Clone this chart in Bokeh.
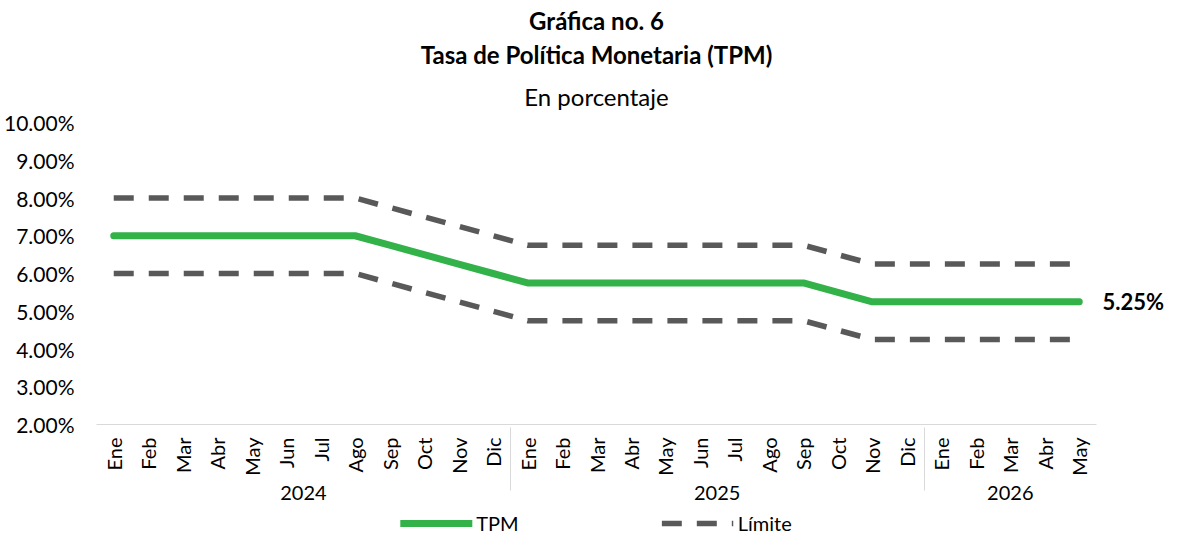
import math
from bokeh.plotting import figure
from bokeh.layouts import column
from bokeh.models import (FactorRange, Range1d, PrintfTickFormatter, Title, Legend,
                          LegendItem, FixedTicker, ColumnDataSource, LinearAxis)
from bokeh.embed import file_html
from bokeh.resources import INLINE

years = ["2024"] * 12 + ["2025"] * 12 + ["2026"] * 5
months = (["Ene", "Feb", "Mar", "Abr", "May", "Jun", "Jul", "Ago", "Sep", "Oct", "Nov", "Dic"] * 2
          + ["Ene", "Feb", "Mar", "Abr", "May"])
tpm = [7.00] * 8 + [6.75, 6.50, 6.25, 6.00] + [5.75] * 9 + [5.50, 5.25, 5.25] + [5.25] * 5
lim_sup = [8.00] * 8 + [7.75, 7.50, 7.25, 7.00] + [6.75] * 9 + [6.50, 6.25, 6.25] + [6.25] * 5
lim_inf = [6.00] * 8 + [5.75, 5.50, 5.25, 5.00] + [4.75] * 9 + [4.50, 4.25, 4.25] + [4.25] * 5
y_ticks = [2, 3, 4, 5, 6, 7, 8, 9, 10]

FONT = "Lato"
GREEN = "#33B24A"
GREY = "#595959"
factors = list(zip(years, months))
src = ColumnDataSource(dict(x=factors, tpm=tpm, sup=lim_sup, inf=lim_inf))

p = figure(width=1167, height=510, output_backend="svg", toolbar_location=None,
           x_range=FactorRange(*factors, range_padding=0, group_padding=0, factor_padding=0),
           y_range=Range1d(2, 10), min_border_right=0, min_border_left=10,
           min_border_bottom=86)
p.outline_line_color = None

for txt, bold, so in [("En porcentaje", False, 23),
                      ("Tasa de Política Monetaria (TPM)", True, 0),
                      ("Gráfica no. 6", True, 6)]:
    p.add_layout(Title(text=txt, align="center", text_font=FONT, text_font_size="24px",
                       text_font_style="bold" if bold else "normal", text_color="black",
                       standoff=so, offset=-8), "above")

p.line("x", "sup", source=src, line_color=GREY, line_width=5.5, line_dash="20 15")
p.line("x", "inf", source=src, line_color=GREY, line_width=5.5, line_dash="20 15")
p.line("x", "tpm", source=src, line_color=GREEN, line_width=7, line_cap="round",
       line_join="round")

p.xgrid.visible = False
p.ygrid.visible = False

ya = p.yaxis[0]
ya.ticker = FixedTicker(ticks=y_ticks)
ya.formatter = PrintfTickFormatter(format="%.2f%%")
ya.axis_line_color = None
ya.major_tick_line_color = None
ya.minor_tick_line_color = None
ya.major_label_text_font = FONT
ya.major_label_text_font_size = "21px"
ya.major_label_text_color = "black"
ya.major_label_standoff = 16

# data label of the last TPM value, as a right-hand axis tick on the shared y scale
end_axis = LinearAxis(ticker=FixedTicker(ticks=[tpm[-1]]),
                      formatter=PrintfTickFormatter(format="%.2f%%"),
                      axis_line_color=None, major_tick_line_color=None,
                      minor_tick_line_color=None, major_label_standoff=0,
                      major_label_text_font=FONT, major_label_text_font_size="22px",
                      major_label_text_font_style="bold", major_label_text_color="black")
p.add_layout(end_axis, "right")

xa = p.xaxis[0]
xa.axis_line_color = "#d9d9d9"
xa.major_tick_line_color = None
xa.minor_tick_line_color = None
xa.major_label_orientation = math.pi / 2
xa.major_label_text_font = FONT
xa.major_label_text_font_size = "20px"
xa.major_label_text_color = "black"
xa.major_label_standoff = 7
xa.group_text_font = FONT
xa.group_text_font_size = "20px"
xa.group_text_color = "black"
xa.group_text_font_style = "normal"
xa.separator_line_color = "#d9d9d9"
xa.separator_line_width = 1

# legend strip below the chart: same series, drawn outside its visible y window
leg = figure(width=1167, height=26, output_backend="svg", toolbar_location=None,
             x_range=FactorRange(*factors), y_range=Range1d(100, 101),
             x_axis_type=None, y_axis_type=None, min_border=0, title=None)
leg.outline_line_color = None
leg.xgrid.visible = False
leg.ygrid.visible = False
r_tpm = leg.line("x", "tpm", source=src, line_color=GREEN, line_width=7, line_cap="round")
r_lim = leg.line("x", "sup", source=src, line_color=GREY, line_width=5.5, line_dash="20 15")
legend = Legend(items=[LegendItem(label="TPM", renderers=[r_tpm]),
                       LegendItem(label="Límite", renderers=[r_lim])],
                orientation="horizontal", location="center", glyph_width=72,
                glyph_height=20, spacing=143, label_standoff=4, padding=0, margin=0,
                label_text_font=FONT, label_text_font_size="20px", label_text_color="black",
                label_height=20, border_line_color=None, background_fill_alpha=0)
leg.add_layout(legend)

open("out.html", "w").write(file_html(column(p, leg), INLINE))
